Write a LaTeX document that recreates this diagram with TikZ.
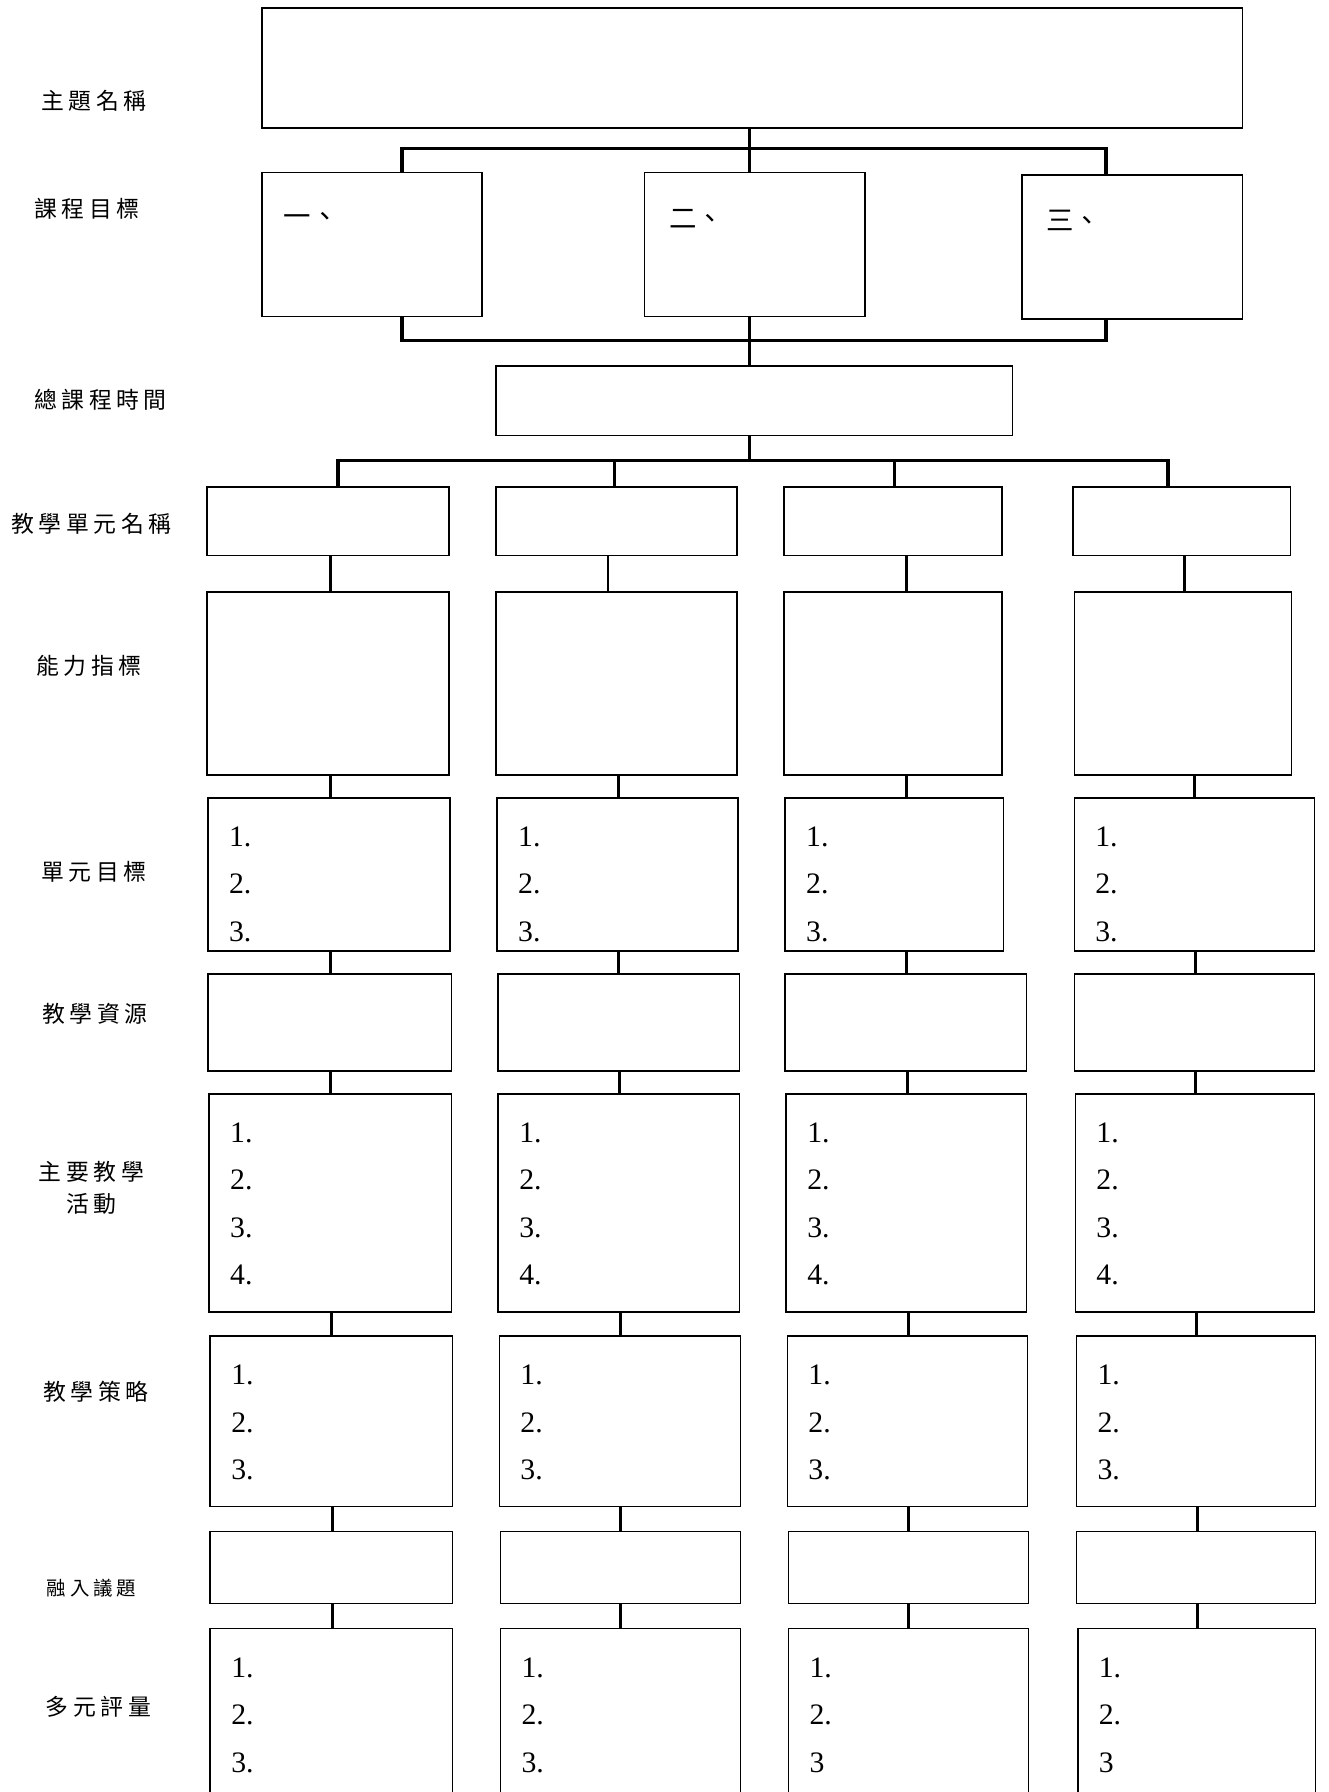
\documentclass[tikz,border=0pt]{standalone}
\usepackage{fontspec}
\setmainfont{Liberation Serif}
\newfontfamily\cjk[LetterSpace=20]{Noto Sans CJK TC}
\newfontfamily\cjkplain{Noto Sans CJK TC}
\usetikzlibrary{positioning}

\tikzset{
  cell/.style={draw, line width=0.7pt, inner sep=0pt, outer sep=0pt},
  link/.style={line width=1.3pt},
  bar/.style={line width=1.6pt},
  lbl/.style={font=\fontsize{10}{14}\selectfont\cjk, align=center, inner sep=0pt},
  items/.style={font=\fontsize{13}{20.75}\selectfont, align=left, inner sep=0pt},
  numtxt/.style={font=\fontsize{12}{14}\selectfont\cjkplain, inner sep=0pt},
}
% box from x1 to x2 and y1 to y2 (image pixels)
\newcommand\unitbox[5]{%
  \node[cell, minimum width={(#3-#2)*0.5pt}, minimum height={(#5-#4)*0.5pt}]
    (#1) at ({(#2+#3)/2},{(#4+#5)/2}) {};}

\begin{document}
\begin{tikzpicture}[x=0.5pt, y=-0.5pt]
    \clip (0,0) rectangle (1162,1568);
    \fill[white] (0,0) rectangle (1162,1568);
    % Draw row labels
    \node[lbl] (lthm) at (82,88) {主題名稱};
    \node[lbl] (lobj) at (76,183) {課程目標};
    \node[lbl] (ltim) at (88,350) {總課程時間};
    \node[lbl] (luni) at (80,458) {教學單元名稱};
    \node[lbl] (labi) at (78,583) {能力指標};
    \node[lbl] (lgoa) at (82,763) {單元目標};
    \node[lbl] (lres) at (83,887) {教學資源};
    \node[lbl] (lact) at (80,1039) {主要教學\\活動};
    \node[lbl] (lstr) at (84,1218) {教學策略};
    \node[lbl, font=\fontsize{8.5}{10}\selectfont\cjk] (liss) at (80,1390) {融入議題};
    \node[lbl] (leva) at (86,1493) {多元評量};
    % Draw theme, course goals and total time
    \unitbox{theme}{229}{1087}{7}{112}
    \unitbox{ob1}{229}{422}{151}{277}
    \unitbox{ob2}{564}{757}{151}{277}
    \unitbox{ob3}{894}{1087}{153}{279}
    \unitbox{time}{434}{886}{320}{381}
    \node[numtxt, anchor=west] (ob1t) at ([shift={(9.5pt,-20.5pt)}]ob1.north west) {一、};
    \node[numtxt, anchor=west] (ob2t) at ([shift={(10.5pt,-20.5pt)}]ob2.north west) {二、};
    \node[numtxt, anchor=west] (ob3t) at ([shift={(10.5pt,-20pt)}]ob3.north west) {三、};
    % Draw the unit columns, one row at a time
    \foreach \row/\ya/\yb/\xa/\xb/\xc/\xd/\xe/\xf/\xg/\xh in {
        ua/426/486/181/393/434/645/686/877/939/1129,
        ab/518/678/181/393/434/645/686/877/940/1130,
        go/698/832/182/394/435/646/687/878/940/1150,
        rs/852/937/182/395/436/647/687/898/940/1150,
        ac/957/1148/183/395/436/647/688/898/941/1150,
        st/1169/1318/184/396/437/648/689/899/942/1151,
        is/1340/1403/184/396/438/648/690/900/942/1151,
        ev/1425/1600/184/396/438/648/690/900/943/1151}{
        \unitbox{\row1}{\xa}{\xb}{\ya}{\yb}
        \unitbox{\row2}{\xc}{\xd}{\ya}{\yb}
        \unitbox{\row3}{\xe}{\xf}{\ya}{\yb}
        \unitbox{\row4}{\xg}{\xh}{\ya}{\yb}
    }
    % Numbered lines inside the boxes
    \foreach \c/\last in {1/3., 2/3., 3/3, 4/3}{
        \node[items, below right=12.5pt and 9pt of go\c.north west] (gon\c) {1.\\2.\\3.};
        \node[items, below right=12.5pt and 9pt of ac\c.north west] (acn\c) {1.\\2.\\3.\\4.};
        \node[items, below right=12.5pt and 9pt of st\c.north west] (stn\c) {1.\\2.\\3.};
        \node[items, below right=12.5pt and 9pt of ev\c.north west] (evn\c) {1.\\2.\\\last};
    }
    % Draw the brackets
    \draw[link] (theme.south -| 656,0) -- (ob2.north -| 656,0);
    \draw[bar] (ob1.north -| 352,0) -- (352,130) -- (968,130) -- (ob3.north -| 968,0);
    \draw[bar] (ob1.south -| 352,0) -- (352,298) -- (968,298) -- (ob3.south -| 968,0);
    \draw[link] (ob2.south -| 656,0) -- (time.north -| 656,0);
    \draw[link] (time.south -| 656,0) -- (656,403);
    \draw[bar] (ua1.north -| 296,0) -- (296,403) -- (1022,403) -- (ua4.north -| 1022,0);
    \draw[link] (ua2.north -| 538,0) -- (538,403);
    \draw[link] (ua3.north -| 783,0) -- (783,403);
    % Draw the links down each column
    \foreach \up/\dn/\xa/\xb/\xc/\xd in {
        ua/ab/289/532/793/1036, ab/go/289/541/793/1045,
        go/rs/289/541/793/1046, rs/ac/289/542/794/1046,
        ac/st/290/543/795/1047, st/is/291/543/795/1048,
        is/ev/291/543/795/1048}{
        \draw[link] (\up1.south -| \xa,0) -- (\dn1.north -| \xa,0);
        \draw[link] (\up2.south -| \xb,0) -- (\dn2.north -| \xb,0);
        \draw[link] (\up3.south -| \xc,0) -- (\dn3.north -| \xc,0);
        \draw[link] (\up4.south -| \xd,0) -- (\dn4.north -| \xd,0);
    }
\end{tikzpicture}
\end{document}
